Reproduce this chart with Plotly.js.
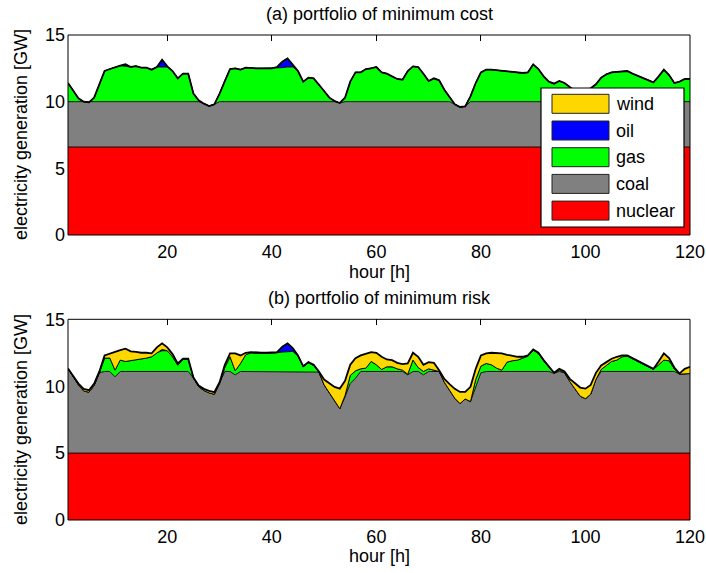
<!DOCTYPE html>
<html>
<head>
<meta charset="utf-8">
<script src="https://cdn.plot.ly/plotly-3.0.1.min.js"></script>
<style>html,body{margin:0;padding:0;background:#fff;}#chart{width:706px;height:573px;}</style>
</head>
<body>
<div id="chart"></div>
<script>
// ---------- data ----------
var hours = [1,2,3,4,5,6,7,8,9,10,11,12,13,14,15,16,17,18,19,20,
  21,22,23,24,25,26,27,28,29,30,31,32,33,34,35,36,37,38,39,40,
  41,42,43,44,45,46,47,48,49,50,51,52,53,54,55,56,57,58,59,60,
  61,62,63,64,65,66,67,68,69,70,71,72,73,74,75,76,77,78,79,80,
  81,82,83,84,85,86,87,88,89,90,91,92,93,94,95,96,97,98,99,100,
  101,102,103,104,105,106,107,108,109,110,111,112,113,114,115,116,117,118,119,120];

var seriesNames = ["nuclear","coal","gas","oil","wind"];
var seriesColors = ["#FF0000","#808080","#00FF00","#0000FF","#FFD700"];
var xTicks = [20,40,60,80,100,120];
var yTicks = [0,5,10,15];

// (a) portfolio of minimum cost
var nuclearA = [6.6,6.6,6.6,6.6,6.6,6.6,6.6,6.6,6.6,6.6,6.6,6.6,6.6,6.6,6.6,6.6,6.6,6.6,6.6,6.6,
  6.6,6.6,6.6,6.6,6.6,6.6,6.6,6.6,6.6,6.6,6.6,6.6,6.6,6.6,6.6,6.6,6.6,6.6,6.6,6.6,
  6.6,6.6,6.6,6.6,6.6,6.6,6.6,6.6,6.6,6.6,6.6,6.6,6.6,6.6,6.6,6.6,6.6,6.6,6.6,6.6,
  6.6,6.6,6.6,6.6,6.6,6.6,6.6,6.6,6.6,6.6,6.6,6.6,6.6,6.6,6.6,6.6,6.6,6.6,6.6,6.6,
  6.6,6.6,6.6,6.6,6.6,6.6,6.6,6.6,6.6,6.6,6.6,6.6,6.6,6.6,6.6,6.6,6.6,6.6,6.6,6.6,
  6.6,6.6,6.6,6.6,6.6,6.6,6.6,6.6,6.6,6.6,6.6,6.6,6.6,6.6,6.6,6.6,6.6,6.6,6.6,6.6];
var coalA = [3.4,3.4,3.4,3.4,3.35,3.4,3.4,3.4,3.4,3.4,3.4,3.4,3.4,3.4,3.4,3.4,3.4,3.4,3.4,3.4,
  3.4,3.4,3.4,3.4,3.4,3.4,3.25,3.07,3.2,3.4,3.4,3.4,3.4,3.4,3.4,3.4,3.4,3.4,3.4,3.4,
  3.4,3.4,3.4,3.4,3.4,3.4,3.4,3.4,3.4,3.4,3.4,3.4,3.3,3.4,3.4,3.4,3.4,3.4,3.4,3.4,
  3.4,3.4,3.4,3.4,3.4,3.4,3.4,3.4,3.4,3.4,3.4,3.4,3.4,3.4,3.2,3.0,3.05,3.4,3.4,3.4,
  3.4,3.4,3.4,3.4,3.4,3.4,3.4,3.4,3.4,3.4,3.4,3.4,3.4,3.4,3.4,3.4,3.4,3.4,3.4,3.4,
  3.4,3.4,3.4,3.4,3.4,3.4,3.4,3.4,3.4,3.4,3.4,3.4,3.4,3.4,3.4,3.4,3.4,3.4,3.4,3.4];
var gasA = [1.4,0.8,0.25,0,0,0.3,1.3,2.3,2.45,2.6,2.7,2.65,2.6,2.67,2.55,2.55,2.4,2.6,2.6,2.6,
  2.3,1.75,2.1,2.1,0.6,0.1,0,0,0,0.6,1.6,2.45,2.5,2.4,2.55,2.5,2.5,2.5,2.5,2.5,
  2.55,2.55,2.6,2.6,2.3,1.5,1.8,1.75,1.3,0.8,0.3,0.05,0,0.3,1.5,2.2,2.2,2.45,2.5,2.6,
  2.2,2.1,1.9,1.7,1.65,2.3,2.65,2.6,2.1,1.55,1.75,1.6,0.9,0.35,0,0,0,0.4,1.4,2.2,
  2.4,2.4,2.35,2.3,2.25,2.2,2.2,2.15,2.2,2.8,2.45,1.9,1.5,1.35,1.55,1.4,1.1,0.8,0.7,0.8,
  1.0,1.3,1.8,2.05,2.2,2.25,2.3,2.3,2.1,1.95,1.8,1.6,1.45,1.9,2.4,2.0,1.4,1.5,1.7,1.7];
var oilA = [0,0,0,0,0,0,0,0,0,0,0,0.15,0,0,0,0,0,0,0.55,0.05,
  0,0,0,0,0,0,0,0,0,0,0,0,0,0,0,0,0,0,0,0,
  0.05,0.45,0.65,0.2,0,0,0,0,0,0,0,0,0,0,0,0,0,0,0,0,
  0,0,0,0,0,0,0,0,0,0,0,0,0,0,0,0,0,0,0,0,
  0,0,0,0,0,0,0,0,0,0,0,0,0,0,0,0,0,0,0,0,
  0,0,0,0,0,0,0,0,0,0,0,0,0,0,0,0,0,0,0,0];
var windA = [0,0,0,0,0,0,0,0,0,0,0,0,0,0,0,0,0,0,0,0,
  0,0,0,0,0,0,0,0,0,0,0,0,0,0,0,0,0,0,0,0,
  0,0,0,0,0,0,0,0,0,0,0,0,0,0,0,0,0,0,0,0,
  0,0,0,0,0,0,0,0,0,0,0,0,0,0,0,0,0,0,0,0,
  0,0,0,0,0,0,0,0,0,0,0,0,0,0,0,0,0,0,0,0,
  0,0,0,0,0,0,0,0,0,0,0,0,0,0,0,0,0,0,0,0];

// (b) portfolio of minimum risk
var nuclearB = [5,5,5,5,5,5,5,5,5,5,5,5,5,5,5,5,5,5,5,5,
  5,5,5,5,5,5,5,5,5,5,5,5,5,5,5,5,5,5,5,5,
  5,5,5,5,5,5,5,5,5,5,5,5,5,5,5,5,5,5,5,5,
  5,5,5,5,5,5,5,5,5,5,5,5,5,5,5,5,5,5,5,5,
  5,5,5,5,5,5,5,5,5,5,5,5,5,5,5,5,5,5,5,5,
  5,5,5,5,5,5,5,5,5,5,5,5,5,5,5,5,5,5,5,5];
var coalB = [6.32,5.75,5.1,4.65,4.55,5.05,6.0,6.1,6.1,5.7,6.1,6.1,6.1,6.1,6.1,6.1,6.1,6.1,6.1,6.1,
  6.1,6.1,6.1,6.1,5.6,4.97,4.68,4.5,4.4,5.2,6.1,6.1,5.85,6.1,6.1,6.1,6.1,6.1,6.1,6.1,
  6.1,6.1,6.1,6.1,6.1,6.1,6.1,6.1,6.05,5.1,4.5,3.9,3.32,4.2,5.2,5.6,6.1,6.1,6.1,6.1,
  6.1,6.1,6.1,6.1,6.1,5.85,6.1,6.1,5.85,6.1,6.1,6.1,5.3,4.7,4.1,3.7,4.05,3.85,4.9,6.0,
  6.1,6.1,6.1,6.1,6.1,6.1,6.1,6.1,6.1,6.1,6.1,6.1,6.1,5.97,6.1,6.0,5.35,4.8,4.25,4.07,
  4.4,5.5,6.1,6.1,6.1,6.1,6.1,6.1,6.1,6.1,6.1,6.1,6.1,6.1,6.1,6.1,6.1,5.9,5.9,5.95];
var gasB = [0,0,0,0,0,0,0,1.0,1.0,0.5,0.85,0.75,0.8,0.85,0.9,1.0,1.1,1.4,1.55,1.55,
  1.1,0.47,0.9,0.9,0,0,0,0,0,0,0.3,1.1,0.3,0.6,1.25,1.4,1.35,1.35,1.35,1.35,
  1.4,1.45,1.47,1.5,1.15,0.35,0.65,0.45,0,0,0,0,0,0.1,0.6,0.55,0.2,0.25,0.75,0.5,
  0.15,0.35,0.35,0.2,0.1,0.05,0.85,0.3,0.25,0.2,0.1,0,0,0,0,0,0,0,0.6,0.5,
  0.6,0.5,0.25,0.1,0.7,0.8,0.85,1.0,1.15,1.6,1.35,0.8,0.35,0,0.1,0,0,0,0,0,
  0,0,0.15,0.45,0.75,0.85,1.1,1.15,0.95,0.8,0.55,0.35,0.15,0.5,0.85,0.8,0.2,0,0,0];
var oilB = [0,0,0,0,0,0,0,0,0,0,0,0,0,0,0,0,0,0,0.1,0,
  0,0,0,0,0,0,0,0,0,0,0,0,0,0,0,0,0,0,0,0,
  0,0.4,0.63,0.25,0,0,0,0,0,0,0,0,0,0,0,0,0,0,0,0,
  0,0,0,0,0,0,0,0,0,0,0,0,0,0,0,0,0,0,0,0,
  0,0,0,0,0,0,0,0,0,0,0,0,0,0,0,0,0,0,0,0,
  0,0,0,0,0,0,0,0,0,0,0,0,0,0,0,0,0,0,0,0];
var windB = [0,0.05,0.1,0.15,0.15,0.15,0.1,0.2,0.35,1.35,0.75,0.95,0.7,0.62,0.5,0.4,0.25,0.4,0.45,0.25,
  0.2,0.13,0.05,0.05,0.05,0.08,0.12,0.15,0.15,0.1,0.2,0.25,1.3,0.6,0.15,0.05,0.05,0.05,0.05,0.05,
  0.05,0,0,0,0.05,0.05,0.05,0.05,0.05,0.4,0.7,1.05,1.5,1.1,0.8,0.95,1.0,1.1,0.7,0.9,
  0.95,0.55,0.5,0.45,0.45,0.8,0.55,0.8,0.5,0.5,0.55,0.1,0.25,0.45,0.7,0.87,0.52,1.1,0.8,0.8,
  0.75,0.9,1.15,1.25,0.55,0.35,0.25,0.1,0.05,0.05,0.05,0.05,0.05,0.03,0.1,0.1,0.2,0.4,0.65,0.75,
  0.7,0.5,0.3,0.25,0.2,0.25,0.1,0.05,0.05,0.05,0.05,0.05,0.05,0.25,0.5,0.2,0.1,0.05,0.4,0.5];

// ---------- drawing ----------
var W = 706, H = 573;
var M = {l: 68, r: 16, t: 35, b: 53};
var PW = W - M.l - M.r, PH = H - M.t - M.b;
function px(x) { return (x - M.l) / PW; }
function py(y) { return (H - M.b - y) / PH; }

var FONT = "Liberation Sans, Arial, sans-serif";
var panelA = [nuclearA, coalA, gasA, oilA, windA];
var panelB = [nuclearB, coalB, gasB, oilB, windB];

var traces = [];
function addPanel(vals, xa, ya, grp) {
  for (var i = 0; i < vals.length; i++) {
    traces.push({
      type: "scatter", mode: "lines", x: hours, y: vals[i],
      xaxis: xa, yaxis: ya, stackgroup: grp, name: seriesNames[i],
      fillcolor: seriesColors[i],
      line: {color: "#000", width: (i === vals.length - 1) ? 1.8 : 0.9},
      showlegend: false, hoverinfo: "skip"
    });
  }
}
addPanel(panelA, "x", "y", "a");
addPanel(panelB, "x2", "y2", "b");

function xax(anchor) {
  return {
    domain: [0, 1], range: [1, 120], anchor: anchor,
    tickvals: xTicks, ticktext: xTicks.map(String),
    ticks: "inside", ticklen: 6, tickwidth: 1, tickcolor: "#000",
    mirror: "ticks", showline: false, showgrid: false, zeroline: false,
    layer: "below traces", tickfont: {family: FONT, size: 18, color: "#000"},
    ticklabelstandoff: 4, fixedrange: true
  };
}
function yax(domain, anchor) {
  return {
    domain: domain, range: [0, 15], anchor: anchor,
    tickvals: yTicks, ticktext: yTicks.map(String),
    ticks: "inside", ticklen: 6, tickwidth: 1, tickcolor: "#000",
    mirror: "ticks", showline: false, showgrid: false, zeroline: false,
    layer: "below traces", tickfont: {family: FONT, size: 18, color: "#000"},
    ticklabelstandoff: 2, fixedrange: true
  };
}

var yDomA = [py(235), 1];
var yDomB = [0, py(319.3)];

var shapes = [
  {type: "rect", xref: "x domain", yref: "y domain", x0: 0, x1: 1, y0: 0, y1: 1,
   line: {color: "#000", width: 1}, fillcolor: "rgba(0,0,0,0)", layer: "above"},
  {type: "rect", xref: "x2 domain", yref: "y2 domain", x0: 0, x1: 1, y0: 0, y1: 1,
   line: {color: "#000", width: 1}, fillcolor: "rgba(0,0,0,0)", layer: "above"}
];
// legend box
shapes.push({type: "rect", xref: "paper", yref: "paper",
  x0: px(541), x1: px(684), y0: py(227), y1: py(88),
  line: {color: "#000", width: 1.2}, fillcolor: "#fff", layer: "above"});
var annotations = [];
var legendOrder = [4, 3, 2, 1, 0];
for (var k = 0; k < legendOrder.length; k++) {
  var sIdx = legendOrder[k];
  var rowTop = 94.3 + k * 26.7;
  shapes.push({type: "rect", xref: "paper", yref: "paper",
    x0: px(552), x1: px(609), y0: py(rowTop + 19), y1: py(rowTop),
    line: {color: "#222", width: 1}, fillcolor: seriesColors[sIdx], layer: "above"});
  annotations.push({xref: "paper", yref: "paper", x: px(614), y: py(rowTop + 9.5),
    xanchor: "left", yanchor: "middle", showarrow: false, text: seriesNames[sIdx],
    font: {family: FONT, size: 18, color: "#000"}});
}

function ann(text, x, y, rot) {
  return {xref: "paper", yref: "paper", x: px(x), y: py(y), xanchor: "center", yanchor: "middle",
    showarrow: false, text: text, textangle: rot || 0,
    font: {family: FONT, size: 18, color: "#000"}};
}
annotations.push(ann("(a) portfolio of minimum cost", 379, 14));
annotations.push(ann("(b) portfolio of minimum risk", 379, 298));
annotations.push(ann("hour [h]", 379, 272));
annotations.push(ann("hour [h]", 379, 556));
annotations.push(ann("electricity generation [GW]", 21, 135, -90));
annotations.push(ann("electricity generation [GW]", 21, 420, -90));

var layout = {
  width: W, height: H, margin: M,
  paper_bgcolor: "#fff", plot_bgcolor: "#fff",
  showlegend: false,
  font: {family: FONT, size: 18, color: "#000"},
  xaxis: xax("y"), yaxis: yax(yDomA, "x"),
  xaxis2: xax("y2"), yaxis2: yax(yDomB, "x2"),
  shapes: shapes, annotations: annotations
};

Plotly.newPlot("chart", traces, layout, {staticPlot: true, displayModeBar: false});
</script>
</body>
</html>
